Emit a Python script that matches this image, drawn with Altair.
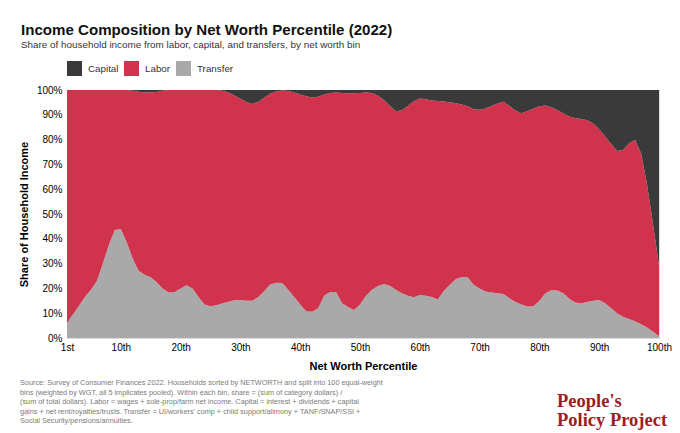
import altair as alt
import pandas as pd

# Net worth bins 1..100
percentiles = list(range(1, 101))

# Share of household income from transfers, by bin (%)
transfer = [
    6, 9.5, 13, 16.5, 19.5, 23, 30, 37.5, 43.5, 44,
    38.5, 32, 27, 25.5, 24.5, 22.5, 20, 18.3, 18.5, 20,
    21.3, 20, 16.5, 13.5, 12.8, 13.2, 14, 14.6, 15.2, 15.3,
    15, 15, 16.5, 19, 21.6, 22.3, 22.2, 19.5, 16.5, 13.5,
    10.8, 10.6, 12, 17, 18.5, 18.5, 14, 12.5, 11.3, 13.5,
    17, 19.5, 21, 21.8, 21.1, 19.5, 18, 17, 16.4, 17.3,
    17, 16.5, 15.5, 19, 21.5, 23.7, 24.6, 24.5, 21.5, 20,
    18.8, 18.3, 18, 17.7, 16, 14.5, 13.5, 12.7, 12.8, 15,
    18, 19.3, 19.2, 18, 15.8, 14.3, 14, 14.5, 15, 15.3,
    14, 12, 10, 8.6, 7.7, 6.8, 5.5, 4.2, 2.5, 0.8,
]

# Share of household income from capital, by bin (%)
capital = [
    0, 0, 0, 0, 0, 0, 0, 0, 0, 0,
    0, 0.3, 0.7, 1, 1, 0.8, 0.3, 0, 0, 0,
    0, 0, 0, 0, 0, 0, 0.3, 1, 2.2, 3.5,
    4.8, 5.6, 4.8, 3, 1.5, 0.6, 0.2, 0.4, 1, 1.8,
    2.5, 3, 2.7, 1.8, 1.2, 1, 1.2, 1.3, 1.3, 1.2,
    1, 1.2, 2.3, 4, 6.5, 8.6, 8.2, 6.5, 4.5, 3.4,
    3.7, 4.2, 4.4, 4.6, 4.9, 5.3, 5.8, 6.6, 7.8, 8,
    7.5, 6.5, 5.4, 4.7, 6.5, 8.3, 9.4, 8.6, 7.5, 6.6,
    6.3, 7, 8.1, 9.5, 10.7, 11.3, 11.7, 12.2, 13.5, 15.8,
    18.8, 21.8, 24.6, 24.2, 21.5, 20.2, 25.5, 38, 54, 71,
]

# Labor is the remainder of each bin's income
labor = [round(100 - t - c, 2) for t, c in zip(transfer, capital)]

categories = ["Capital", "Labor", "Transfer"]
colors = ["#3a3a3a", "#d0334b", "#a9a9a9"]
stack_rank = {"Transfer": 0, "Labor": 1, "Capital": 2}

x_ticks = [1, 10, 20, 30, 40, 50, 60, 70, 80, 90, 100]
y_ticks = [0, 10, 20, 30, 40, 50, 60, 70, 80, 90, 100]

source_lines = [
    "Source: Survey of Consumer Finances 2022. Households sorted by NETWORTH and split into 100 equal-weight",
    "bins (weighted by WGT, all 5 implicates pooled). Within each bin, share = (sum of category dollars) /",
    "(sum of total dollars). Labor = wages + sole-prop/farm net income. Capital = interest + dividends + capital",
    "gains + net rent/royalties/trusts. Transfer = UI/workers' comp + child support/alimony + TANF/SNAP/SSI +",
    "Social Security/pensions/annuities.",
]
logo_lines = ["People's", "Policy Project"]

rows = []
for i, p in enumerate(percentiles):
    for cat, vals in (("Transfer", transfer), ("Labor", labor), ("Capital", capital)):
        rows.append({"percentile": p, "category": cat, "share": vals[i],
                     "rank": stack_rank[cat]})
df = pd.DataFrame(rows)

FONT = "Liberation Sans"

areas = alt.Chart(df).mark_area(interpolate="linear").encode(
    x=alt.X(
        "percentile:Q",
        scale=alt.Scale(domain=[1, 100], nice=False, zero=False),
        axis=alt.Axis(
            values=x_ticks,
            labelExpr="datum.value == 1 ? '1st' : datum.value + 'th'",
            title="Net Worth Percentile",
            grid=True,
            ticks=False,
            domain=False,
            labelFlush=False,
            labelPadding=4,
            titlePadding=8,
        ),
    ),
    y=alt.Y(
        "share:Q",
        stack="zero",
        scale=alt.Scale(domain=[0, 100], nice=False),
        axis=alt.Axis(
            values=y_ticks,
            labelExpr="datum.value + '%'",
            title="Share of Household Income",
            grid=True,
            ticks=False,
            domain=False,
            labelPadding=5,
            titlePadding=7,
        ),
    ),
    color=alt.Color(
        "category:N",
        scale=alt.Scale(domain=categories, range=colors),
        legend=alt.Legend(
            title=None,
            orient="none",
            direction="horizontal",
            legendX=0,
            legendY=-29,
            symbolType="square",
            symbolSize=225,
            symbolStrokeWidth=0,
            symbolOpacity=1,
            labelFontSize=9.8,
            labelColor="#333333",
            labelFont=FONT,
            gridAlign="none",
            columnPadding=5,
            labelOffset=6,
        ),
    ),
    order=alt.Order("rank:Q", sort="ascending"),
)

source_note = alt.Chart(alt.Data(values=[{}])).mark_text(
    align="left", baseline="top", font=FONT, fontSize=7.3,
    color="#7a7a7a", lineHeight=9.6,
).encode(
    x=alt.value(-47), y=alt.value(289), text=alt.value(source_lines)
)

logo = alt.Chart(alt.Data(values=[{}])).mark_text(
    align="left", baseline="top", font="Liberation Serif", fontSize=18.5,
    fontWeight="bold", color="#9e1c22", lineHeight=18.8,
).encode(
    x=alt.value(490), y=alt.value(302), text=alt.value(logo_lines)
)

chart = alt.layer(areas, source_note, logo).properties(
    width=592,
    height=248,
    padding={"left": 67, "top": 90, "right": 21, "bottom": 95},
    autosize=alt.AutoSizeParams(type="none"),
    title=alt.TitleParams(
        text="Income Composition by Net Worth Percentile (2022)",
        subtitle="Share of household income from labor, capital, and transfers, by net worth bin",
        anchor="start",
        frame="group",
        dx=-46,
        offset=11,
        font=FONT,
        fontSize=15.1,
        fontWeight="bold",
        color="#111111",
        subtitleFont=FONT,
        subtitleFontSize=9.9,
        subtitleColor="#333333",
        subtitlePadding=2,
    ),
).configure_view(
    stroke=None
).configure_axis(
    labelFont=FONT,
    labelFontSize=9.3,
    labelColor="#555555",
    titleFont=FONT,
    titleFontSize=13,
    titleFontWeight="bold",
    titleColor="#222222",
    gridColor="#000000",
    gridOpacity=0.06,
    zindex=1,
).configure(background="white")

chart.save("out.html", embed_options={"renderer": "svg", "actions": False})
